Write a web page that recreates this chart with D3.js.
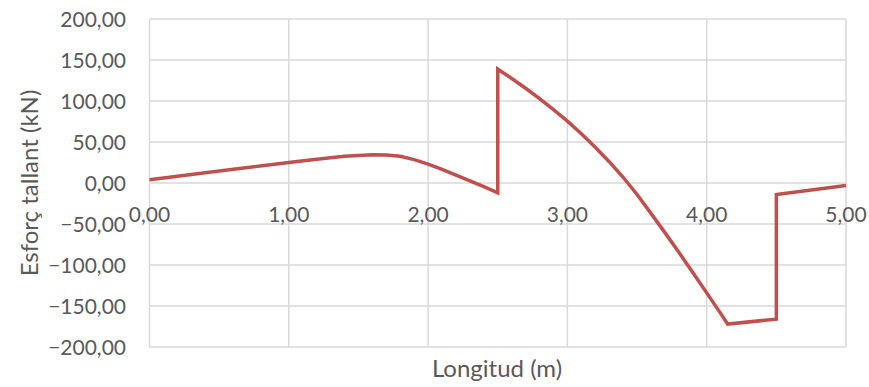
<!DOCTYPE html>
<html>
<head>
<meta charset="utf-8">
<script src="https://cdn.jsdelivr.net/npm/d3@7"></script>
<style>
  body { margin: 0; background: #fff; }
  text { font-family: Lato, "Open Sans", sans-serif; fill: #595959; }
</style>
</head>
<body>
<div id="plot"></div>
<script>
// shear force along the beam
var longitud = [0, 0.5, 1.0, 1.2, 1.4, 1.6, 1.7, 1.8, 1.9, 2.0, 2.1, 2.2, 2.3, 2.4, 2.5,
                2.5, 2.6, 2.7, 2.8, 2.9, 3.0, 3.1, 3.2, 3.3, 3.4, 3.5, 3.6, 3.7, 3.8, 3.9, 4.0, 4.1, 4.15,
                4.5, 4.5, 5.0];
var esforc   = [4, 14.5, 25, 29, 32.5, 34.5, 34.2, 32.5, 28.5, 23, 16.5, 9.5, 2.5, -4.5, -12,
                139, 127.5, 115.5, 103, 89.5, 75.5, 60, 43.5, 26, 7, -14, -37, -60.5, -84.5, -109, -134, -159, -172,
                -166, -14, -3];
var xTicks = [0, 1, 2, 3, 4, 5];
var yTicks = [-200, -150, -100, -50, 0, 50, 100, 150, 200];

var W = 869, H = 387;
var margin = {top: 19, right: 23, bottom: 40, left: 149.5};

var fmt = function(v) { return d3.format(".2f")(v).replace(".", ","); };

var svg = d3.select("#plot").append("svg")
    .attr("width", W).attr("height", H);

var x = d3.scaleLinear().domain([0, 5]).range([margin.left, W - margin.right]);
var y = d3.scaleLinear().domain([-200, 200]).range([H - margin.bottom, margin.top]);

// gridlines
svg.append("g").selectAll("line.h")
  .data(yTicks).enter().append("line")
    .attr("x1", x(0)).attr("x2", x(5))
    .attr("y1", function(d) { return y(d); })
    .attr("y2", function(d) { return y(d); })
    .style("stroke", "#d9d9d9").style("stroke-width", 1.5);

svg.append("g").selectAll("line.v")
  .data(xTicks).enter().append("line")
    .attr("y1", y(-200)).attr("y2", y(200))
    .attr("x1", function(d) { return x(d); })
    .attr("x2", function(d) { return x(d); })
    .style("stroke", "#d9d9d9").style("stroke-width", 1.5);

// y tick labels
svg.append("g").selectAll("text")
  .data(yTicks).enter().append("text")
    .attr("x", 126)
    .attr("y", function(d) { return y(d); })
    .attr("dy", "0.36em")
    .attr("text-anchor", "end")
    .style("font-size", "21px")
    .text(fmt);

// x tick labels sit just under the zero line
svg.append("g").selectAll("text")
  .data(xTicks).enter().append("text")
    .attr("x", function(d) { return x(d); })
    .attr("y", y(0) + 39)
    .attr("text-anchor", "middle")
    .style("font-size", "21px")
    .text(fmt);

// data line
var pts = longitud.map(function(d, i) { return [d, esforc[i]]; });
svg.append("path")
    .datum(pts)
    .attr("d", d3.line()
      .x(function(d) { return x(d[0]); })
      .y(function(d) { return y(d[1]); }))
    .style("fill", "none")
    .style("stroke", "#c0504d")
    .style("stroke-width", 3.5)
    .style("stroke-linejoin", "miter");

// axis titles
svg.append("text")
    .attr("x", 497)
    .attr("y", 377)
    .attr("text-anchor", "middle")
    .style("font-size", "24px")
    .text("Longitud (m)");

svg.append("text")
    .attr("transform", "translate(38," + ((margin.top + H - margin.bottom) / 2) + ") rotate(-90)")
    .attr("text-anchor", "middle")
    .style("font-size", "24px")
    .text("Esforç tallant (kN)");
</script>
</body>
</html>
